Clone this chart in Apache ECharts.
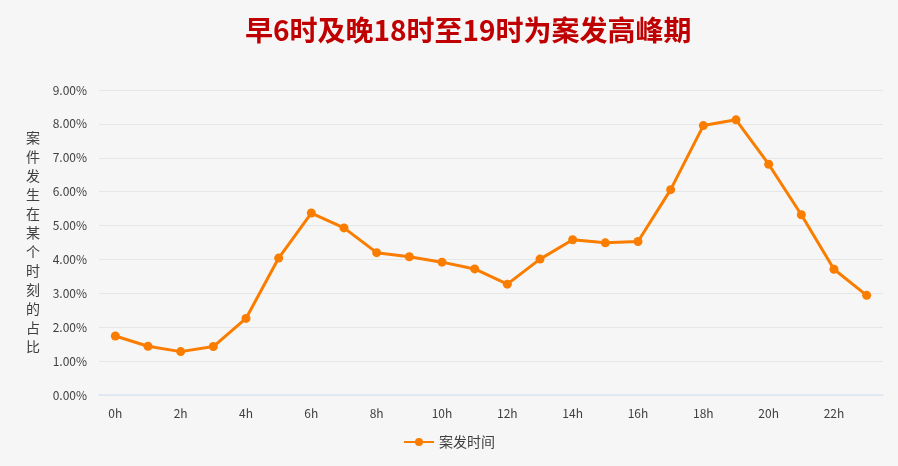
<!DOCTYPE html>
<html><head><meta charset="utf-8">
<script src="https://cdn.jsdelivr.net/npm/echarts@6/dist/echarts.min.js"></script>
<style>html,body{margin:0;padding:0;background:#f6f6f6}#c{width:898px;height:466px}</style>
</head><body><div id="c"></div>
<script>
const titleText = '早6时及晚18时至19时为案发高峰期';
const seriesName = '案发时间';
const yAxisName = '案件发生在某个时刻的占比';
const hours = ['0h','1h','2h','3h','4h','5h','6h','7h','8h','9h','10h','11h','12h','13h','14h','15h','16h','17h','18h','19h','20h','21h','22h','23h'];
const values = [1.74,1.44,1.28,1.43,2.26,4.04,5.37,4.93,4.20,4.08,3.92,3.72,3.27,4.01,4.58,4.49,4.53,6.06,7.95,8.12,6.81,5.32,3.71,2.94];

const chart = echarts.init(document.getElementById('c'));
const font = '"Noto Sans CJK SC", "Noto Sans", sans-serif';
chart.setOption({
  backgroundColor: '#f6f6f6',
  title: {
    text: titleText, left: 240, top: 11,
    textStyle: {color: '#c00000', fontSize: 28, fontWeight: 'bold', fontFamily: font}
  },
  legend: {
    bottom: 12, left: 'center', itemWidth: 30, itemHeight: 10,
    textStyle: {color: '#404040', fontSize: 14, fontFamily: font},
    data: [seriesName]
  },
  grid: {left: 99, right: 15, top: 90, bottom: 71, containLabel: false},
  xAxis: {
    type: 'category', data: hours, boundaryGap: true,
    axisLine: {lineStyle: {color: '#dce6f2', width: 1.5}},
    axisTick: {show: false},
    axisLabel: {interval: 1, color: '#404040', fontSize: 12, fontFamily: font, margin: 12}
  },
  yAxis: {
    type: 'value', min: 0, max: 9, interval: 1,
    name: yAxisName.split('').join('\n'),
    nameLocation: 'middle', nameRotate: 0, nameGap: 59,
    nameTextStyle: {color: '#404040', fontSize: 14, fontFamily: font, lineHeight: 19},
    axisLine: {show: false}, axisTick: {show: false},
    axisLabel: {color: '#404040', fontSize: 12, fontFamily: font, margin: 12,
      formatter: v => v.toFixed(2) + '%'},
    splitLine: {lineStyle: {color: '#e6e6e6', width: 1}}
  },
  series: [{
    name: seriesName, type: 'line', data: values,
    symbol: 'circle', symbolSize: 9,
    lineStyle: {color: '#fa7d00', width: 3},
    itemStyle: {color: '#fa7d00'}
  }]
});
</script></body></html>
